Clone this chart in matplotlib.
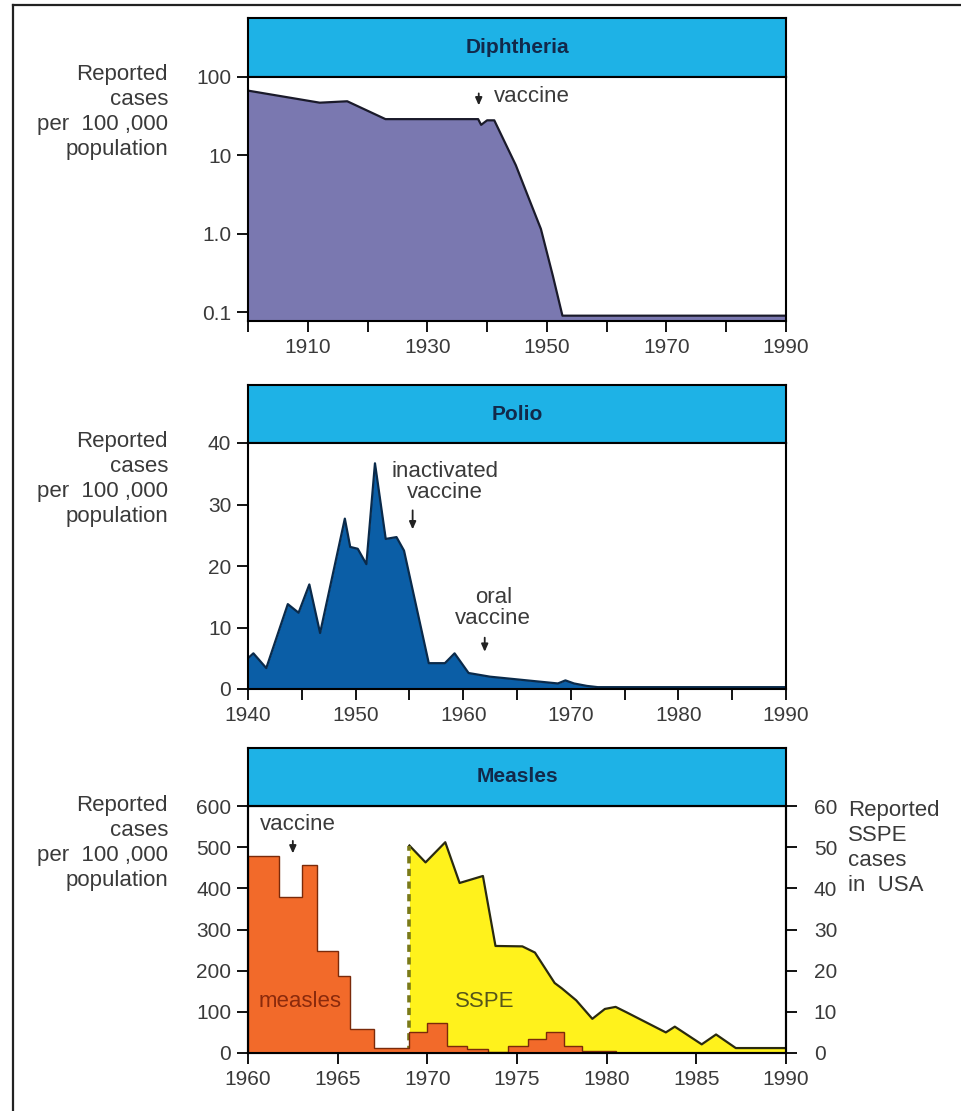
import matplotlib.pyplot as plt
import matplotlib.ticker as ticker
from matplotlib.lines import Line2D
import numpy as np

plt.rcParams['font.family'] = ['Liberation Sans', 'DejaVu Sans']

# ---- data ----
diph_years = [1900, 1912, 1916.6, 1923, 1938.5, 1939, 1940, 1941.2, 1944.8, 1947, 1949, 1951, 1952.6, 1990]
diph_rate = [67, 47, 49, 29, 29, 24.5, 28, 28, 7.5, 2.8, 1.15, 0.29, 0.09, 0.09]

polio_years = [1940, 1940.5, 1941.7, 1943.7, 1944.7, 1945.7, 1946.7, 1949, 1949.5, 1950.2, 1951,
               1951.8, 1952.8, 1953.8, 1954.5, 1956.8, 1958.3, 1959.2, 1960.5, 1962.5, 1968.8,
               1969.5, 1970.3, 1971.5, 1972.5, 1990]
polio_rate = [5.0, 5.8, 3.4, 13.8, 12.4, 17.0, 9.1, 27.7, 23.1, 22.8, 20.3,
              36.7, 24.4, 24.7, 22.5, 4.2, 4.2, 5.8, 2.6, 2.0, 0.9,
              1.4, 0.9, 0.5, 0.3, 0.3]

measles_edges = [1960, 1961.75, 1963, 1963.85, 1965, 1965.7, 1967, 1969, 1970, 1971.1, 1972.2,
                 1973.4, 1974.5, 1975.6, 1976.6, 1977.6, 1978.6, 1980.5]
measles_rate = [479, 380, 457, 248, 188, 58, 11, 50, 73, 17, 10, 3, 17, 33, 50, 17, 5]

sspe_years = [1969, 1969.9, 1971, 1971.8, 1973.1, 1973.8, 1975.3, 1976, 1977.1, 1977.5, 1978.3,
              1979.2, 1979.9, 1980.5, 1981.1, 1983.3, 1983.8, 1985.3, 1986.1, 1987.2, 1990]
sspe_cases = [50.4, 46.3, 51.2, 41.3, 43, 26, 25.9, 24.4, 17, 15.7, 12.8,
              8.3, 10.7, 11.2, 9.9, 5, 6.4, 2.1, 4.5, 1.2, 1.2]

ylabel_text = 'Reported\ncases\nper  100 ,000\npopulation'
sspe_label = 'Reported\nSSPE\ncases\nin  USA'

# ---- colours ----
c_title = '#1eb2e6'
c_diph = '#7a78b0'
c_polio = '#0b5ea6'
c_measles = '#f26a2a'
c_sspe = '#fff21c'
c_text = '#3a3a3a'

FS_TICK = 15
FS_TEXT = 16

W, H = 961, 1111
fig = plt.figure(figsize=(W / 100, H / 100), dpi=100)


def fx(px):
    return px / W


def fy(py):
    return 1 - py / H


def make_panel(top, box_bottom, bottom, title):
    tax = fig.add_axes([fx(248), fy(box_bottom), fx(786 - 248), (box_bottom - top) / H])
    tax.set_facecolor(c_title)
    tax.set_xticks([])
    tax.set_yticks([])
    for s in tax.spines.values():
        s.set_linewidth(1.5)
    tax.text(0.5, 0.5, title, ha='center', va='center', fontsize=15, fontweight='bold',
             color='#12294a', transform=tax.transAxes)
    ax = fig.add_axes([fx(248), fy(bottom), fx(786 - 248), (bottom - box_bottom) / H])
    for s in ax.spines.values():
        s.set_linewidth(1.5)
    ax.tick_params(direction='out', length=8, width=1.3, labelsize=FS_TICK, labelcolor=c_text,
                   top=False, right=False, pad=4)
    ax.tick_params(which='minor', direction='out', length=8, width=1.3)
    return ax


arrow = dict(arrowstyle='-|>,head_width=0.2,head_length=0.45', color='#222222', lw=1.3)

# ---- Diphtheria ----
ax1 = make_panel(18, 77, 321, 'Diphtheria')
ax1.set_yscale('log')
ax1.fill_between(diph_years, diph_rate, 1e-3, color=c_diph, lw=0)
ax1.plot(diph_years, diph_rate, color='#1a1a2a', lw=1.6)
ax1.set_xlim(1900, 1990)
ax1.set_ylim(0.077, 100)
ax1.set_yticks([0.1, 1, 10, 100])
ax1.set_yticklabels(['0.1', '1.0', '10', '100'])
ax1.yaxis.set_minor_locator(ticker.NullLocator())
ax1.set_xticks(np.arange(1910, 1991, 20))
ax1.set_xticks(np.arange(1900, 1991, 20), minor=True)
ax1.annotate('', xy=(1938.6, 40), xytext=(1938.6, 67), arrowprops=arrow)
ax1.text(1941.2, 57, 'vaccine', fontsize=FS_TEXT, color=c_text, va='center')

# ---- Polio ----
ax2 = make_panel(385, 443, 689, 'Polio')
ax2.fill_between(polio_years, polio_rate, 0, color=c_polio, lw=0)
ax2.plot(polio_years, polio_rate, color='#0a2a4a', lw=1.6)
ax2.set_xlim(1940, 1990)
ax2.set_ylim(0, 40)
ax2.set_yticks([0, 10, 20, 30, 40])
ax2.set_xticks(np.arange(1940, 1991, 10))
ax2.set_xticks(np.arange(1945, 1990, 10), minor=True)
ax2.text(1958.3, 33.7, 'inactivated\nvaccine', fontsize=FS_TEXT, color=c_text, ha='center',
         va='center', linespacing=1.0)
ax2.annotate('', xy=(1955.3, 25.5), xytext=(1955.3, 29.5), arrowprops=arrow)
ax2.text(1962.8, 13.2, 'oral\nvaccine', fontsize=FS_TEXT, color=c_text, ha='center', va='center',
         linespacing=1.0)
ax2.annotate('', xy=(1962.0, 5.6), xytext=(1962.0, 8.8), arrowprops=arrow)

# ---- Measles ----
ax3 = make_panel(748, 806, 1053, 'Measles')
ax3r = ax3.twinx()
ax3r.set_zorder(ax3.get_zorder() - 1)
ax3.patch.set_visible(False)
ax3r.set_facecolor('white')
ax3r.fill_between(sspe_years, sspe_cases, 0, color=c_sspe, lw=0)
ax3r.plot(sspe_years, sspe_cases, color='#2a2a10', lw=1.6)
ax3r.vlines(sspe_years[0], 0, sspe_cases[0], colors='#7a7a18', lw=2.6, linestyles=(0, (2, 1.5)))
ax3r.set_ylim(0, 60)
ax3r.set_yticks(np.arange(0, 61, 10))
for s in ax3r.spines.values():
    s.set_linewidth(1.5)
ax3r.tick_params(direction='out', length=8, width=1.3, labelsize=FS_TICK, labelcolor=c_text,
                 pad=12)

ax3.stairs(measles_rate, measles_edges, fill=True, color=c_measles, lw=0)
ax3.stairs(measles_rate, measles_edges, color='#7a2a0a', lw=1.0)
ax3.set_xlim(1960, 1990)
ax3.set_ylim(0, 600)
ax3.set_yticks(np.arange(0, 601, 100))
ax3.set_xticks(np.arange(1960, 1991, 5))
ax3.text(1962.9, 125, 'measles', fontsize=FS_TEXT, color='#8a2a0c', ha='center', va='center')
ax3.text(1973.2, 125, 'SSPE', fontsize=FS_TEXT, color='#55551a', ha='center', va='center')
ax3.text(1962.8, 555, 'vaccine', fontsize=FS_TEXT, color=c_text, ha='center', va='center')
ax3.annotate('', xy=(1962.5, 478), xytext=(1962.5, 522), arrowprops=arrow)

# ---- side labels ----
for top in (64, 431, 795):
    fig.text(fx(168), fy(top), ylabel_text, ha='right', va='top', fontsize=FS_TEXT,
             color=c_text, linespacing=1.25, multialignment='right')
fig.text(fx(848), fy(800), sspe_label, ha='left', va='top',
         fontsize=FS_TEXT, color=c_text, linespacing=1.25)

# ---- page border (left and top edges of the scanned frame) ----
fig.add_artist(Line2D([fx(13), fx(13)], [0, fy(5)], color='#222222', lw=1.6))
fig.add_artist(Line2D([fx(13), 1], [fy(5), fy(5)], color='#222222', lw=1.6))

plt.savefig('out.png', dpi=100)
